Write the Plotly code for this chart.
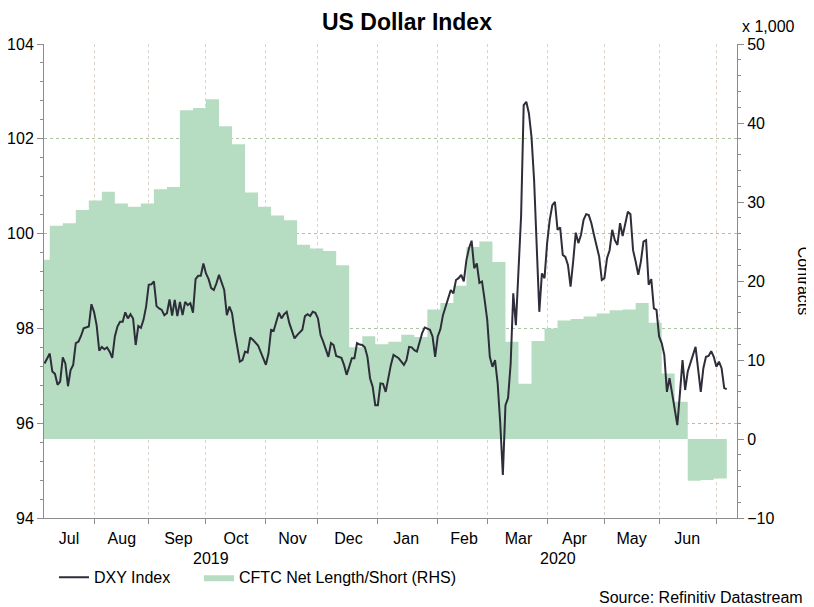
import plotly.graph_objects as go

# DXY daily closes
dxy_dates = [
    "2019-07-05", "2019-07-09", "2019-07-10", "2019-07-11", "2019-07-12", "2019-07-15", "2019-07-16",
    "2019-07-17", "2019-07-18", "2019-07-19", "2019-07-22", "2019-07-23", "2019-07-24", "2019-07-25",
    "2019-07-26", "2019-07-30", "2019-07-31", "2019-08-01", "2019-08-02", "2019-08-05", "2019-08-06",
    "2019-08-07", "2019-08-08", "2019-08-09", "2019-08-12", "2019-08-13", "2019-08-14", "2019-08-15",
    "2019-08-16", "2019-08-19", "2019-08-20", "2019-08-21", "2019-08-22", "2019-08-23", "2019-08-26",
    "2019-08-27", "2019-08-28", "2019-08-29", "2019-08-30", "2019-09-02", "2019-09-03", "2019-09-04",
    "2019-09-05", "2019-09-06", "2019-09-09", "2019-09-10", "2019-09-11", "2019-09-12", "2019-09-13",
    "2019-09-16", "2019-09-17", "2019-09-18", "2019-09-19", "2019-09-20", "2019-09-23", "2019-09-24",
    "2019-09-25", "2019-09-26", "2019-09-27", "2019-09-30", "2019-10-01", "2019-10-02", "2019-10-03",
    "2019-10-04", "2019-10-07", "2019-10-08", "2019-10-10", "2019-10-11", "2019-10-14", "2019-10-15",
    "2019-10-16", "2019-10-18", "2019-10-21", "2019-10-22", "2019-10-23", "2019-10-24", "2019-10-25",
    "2019-10-28", "2019-10-29", "2019-10-31", "2019-11-01", "2019-11-04", "2019-11-05", "2019-11-06",
    "2019-11-07", "2019-11-08", "2019-11-11", "2019-11-12", "2019-11-13", "2019-11-14", "2019-11-18",
    "2019-11-19", "2019-11-21", "2019-11-22", "2019-11-25", "2019-11-26", "2019-11-27", "2019-11-28",
    "2019-11-29", "2019-12-02", "2019-12-03", "2019-12-04", "2019-12-05", "2019-12-06", "2019-12-09",
    "2019-12-10", "2019-12-11", "2019-12-12", "2019-12-13", "2019-12-16", "2019-12-17", "2019-12-18",
    "2019-12-19", "2019-12-20", "2019-12-23", "2019-12-24", "2019-12-25", "2019-12-26", "2019-12-27",
    "2019-12-30", "2019-12-31", "2020-01-01", "2020-01-02", "2020-01-03", "2020-01-06", "2020-01-07",
    "2020-01-08", "2020-01-09", "2020-01-10", "2020-01-13", "2020-01-14", "2020-01-15", "2020-01-16",
    "2020-01-17", "2020-01-20", "2020-01-21", "2020-01-22", "2020-01-23", "2020-01-24", "2020-01-27",
    "2020-01-29", "2020-01-30", "2020-01-31", "2020-02-03", "2020-02-04", "2020-02-05", "2020-02-06",
    "2020-02-07", "2020-02-10", "2020-02-11", "2020-02-12", "2020-02-13", "2020-02-14", "2020-02-17",
    "2020-02-18", "2020-02-19", "2020-02-20", "2020-02-21", "2020-02-24", "2020-02-25", "2020-02-26",
    "2020-02-27", "2020-02-28", "2020-03-02", "2020-03-03", "2020-03-04", "2020-03-05", "2020-03-06",
    "2020-03-09", "2020-03-10", "2020-03-11", "2020-03-12", "2020-03-13", "2020-03-16", "2020-03-17",
    "2020-03-18", "2020-03-19", "2020-03-20", "2020-03-23", "2020-03-24", "2020-03-25", "2020-03-26",
    "2020-03-27", "2020-03-30", "2020-03-31", "2020-04-01", "2020-04-02", "2020-04-03", "2020-04-06",
    "2020-04-07", "2020-04-08", "2020-04-09", "2020-04-10", "2020-04-13", "2020-04-14", "2020-04-15",
    "2020-04-16", "2020-04-17", "2020-04-20", "2020-04-21", "2020-04-22", "2020-04-23", "2020-04-24",
    "2020-04-27", "2020-04-28", "2020-04-29", "2020-04-30", "2020-05-01", "2020-05-04", "2020-05-05",
    "2020-05-06", "2020-05-07", "2020-05-08", "2020-05-11", "2020-05-12", "2020-05-13", "2020-05-14",
    "2020-05-15", "2020-05-18", "2020-05-19", "2020-05-20", "2020-05-21", "2020-05-22", "2020-05-25",
    "2020-05-26", "2020-05-27", "2020-05-28", "2020-05-29", "2020-06-01", "2020-06-02", "2020-06-03",
    "2020-06-04", "2020-06-05", "2020-06-08", "2020-06-09", "2020-06-10", "2020-06-11", "2020-06-12",
    "2020-06-15", "2020-06-16", "2020-06-19", "2020-06-22", "2020-06-23", "2020-06-24", "2020-06-25",
    "2020-06-26", "2020-06-29", "2020-06-30", "2020-07-01", "2020-07-02", "2020-07-03", "2020-07-06",
    "2020-07-07",
]
dxy_values = [
    97.26, 97.47, 97.09, 97.04, 96.81, 96.88, 97.39,
    97.26, 96.78, 97.12, 97.23, 97.69, 97.72, 97.84,
    98.00, 98.04, 98.51, 98.35, 98.07, 97.53, 97.61,
    97.56, 97.60, 97.51, 97.38, 97.83, 98.04, 98.14,
    98.14, 98.34, 98.21, 98.30, 98.21, 97.65, 98.05,
    98.01, 98.18, 98.46, 98.92, 98.93, 98.99, 98.47,
    98.42, 98.39, 98.28, 98.32, 98.61, 98.27, 98.60,
    98.26, 98.56, 98.28, 98.56, 98.49, 98.53, 98.33,
    99.04, 99.11, 99.11, 99.37, 99.16, 99.04, 98.85,
    98.81, 98.95, 99.13, 98.81, 98.28, 98.46, 98.32,
    97.93, 97.30, 97.33, 97.51, 97.49, 97.81, 97.76,
    97.69, 97.64, 97.37, 97.23, 97.47, 97.97, 97.95,
    98.14, 98.33, 98.21, 98.30, 98.35, 98.11, 97.79,
    97.86, 97.97, 98.26, 98.30, 98.26, 98.35, 98.33,
    98.21, 97.86, 97.72, 97.58, 97.40, 97.69, 97.65,
    97.42, 97.40, 97.38, 97.23, 97.02, 97.19, 97.37,
    97.37, 97.69, 97.66, 97.65, 97.60, 97.40, 96.95,
    96.77, 96.38, 96.38, 96.84, 96.83, 96.66, 96.98,
    97.23, 97.44, 97.40, 97.37, 97.30, 97.23, 97.33,
    97.61, 97.60, 97.54, 97.51, 97.69, 97.90, 98.02,
    97.97, 97.83, 97.40, 97.83, 97.98, 98.28, 98.46,
    98.60, 98.81, 98.74, 99.02, 99.06, 99.13, 98.99,
    99.44, 99.69, 99.85, 99.27, 99.37, 98.96, 98.99,
    98.60, 98.18, 97.40, 97.19, 97.33, 96.84, 96.00,
    94.91, 96.38, 96.53, 97.26, 98.74, 98.07, 99.23,
    100.36, 102.71, 102.78, 102.54, 102.04, 101.13, 99.65,
    98.35, 99.16, 99.06, 99.80, 100.29, 100.60, 100.67,
    100.08, 100.13, 99.55, 99.51, 99.34, 98.88, 99.41,
    100.02, 99.80, 99.97, 100.29, 100.41, 100.39, 100.22,
    99.97, 99.76, 99.51, 99.02, 99.06, 99.48, 99.65,
    100.08, 99.86, 99.76, 100.22, 99.95, 100.22, 100.46,
    100.41, 99.65, 99.41, 99.13, 99.41, 99.83, 99.86,
    98.92, 99.04, 98.42, 98.39, 97.83, 97.69, 97.44,
    96.66, 96.95, 96.63, 96.24, 95.96, 96.63, 97.33,
    96.70, 97.09, 97.61, 97.12, 96.66, 97.16, 97.40,
    97.42, 97.52, 97.40, 97.19, 97.30, 97.16, 96.74,
    96.72,
]

# CFTC net length/short, weekly, thousands of contracts
cftc_dates = [
    "2019-07-02", "2019-07-09", "2019-07-16", "2019-07-23", "2019-07-30", "2019-08-06", "2019-08-13",
    "2019-08-20", "2019-08-27", "2019-09-03", "2019-09-10", "2019-09-17", "2019-09-24", "2019-10-01",
    "2019-10-08", "2019-10-15", "2019-10-22", "2019-10-29", "2019-11-05", "2019-11-12", "2019-11-19",
    "2019-11-26", "2019-12-03", "2019-12-10", "2019-12-17", "2019-12-24", "2019-12-31", "2020-01-07",
    "2020-01-14", "2020-01-21", "2020-01-28", "2020-02-04", "2020-02-11", "2020-02-18", "2020-02-25",
    "2020-03-03", "2020-03-10", "2020-03-17", "2020-03-24", "2020-03-31", "2020-04-07", "2020-04-14",
    "2020-04-21", "2020-04-28", "2020-05-05", "2020-05-12", "2020-05-19", "2020-05-26", "2020-06-02",
    "2020-06-09", "2020-06-16", "2020-06-23", "2020-06-30", "2020-07-07",
]
cftc_values = [
    22.7, 27.0, 27.3, 29.0, 30.2, 31.3, 29.8,
    29.4, 29.8, 31.6, 31.9, 41.6, 41.9, 43.0,
    39.6, 37.3, 31.2, 29.4, 28.3, 27.7, 24.6,
    24.1, 23.8, 22.0, 11.6, 13.0, 12.0, 12.3,
    13.2, 12.9, 16.4, 17.2, 19.4, 24.3, 25.0,
    22.4, 12.3, 7.0, 12.4, 14.0, 15.0, 15.2,
    15.5, 15.9, 16.3, 16.4, 17.2, 14.7, 8.3,
    4.7, -5.3, -5.2, -5.0, -5.0,
]

# month labels sit in the middle of each (visible) month
month_labels = ["Jul", "Aug", "Sep", "Oct", "Nov", "Dec", "Jan", "Feb", "Mar", "Apr", "May", "Jun"]
month_label_dates = [
    "2019-07-18 10:00", "2019-08-15 16:00", "2019-09-16 10:00", "2019-10-16 12:00",
    "2019-11-15 05:00", "2019-12-16 17:00", "2020-01-15 21:00", "2020-02-17 02:00",
    "2020-03-17 00:00", "2020-04-15 12:00", "2020-05-15 10:00", "2020-06-15 19:00",
]
year_labels = ["2019", "2020"]
year_label_dates = ["2019-10-03", "2020-04-07"]

FONT = "Liberation Sans, Arial, sans-serif"
AXIS_COL = "#8c8c8c"
HGRID = "#adc4a2"
VGRID = "#dcd2cc"

fig = go.Figure()

# area goes on the base axis so the DXY line (overlay axis) is drawn on top
fig.add_trace(go.Scatter(
    x=cftc_dates, y=cftc_values, name="CFTC Net Length/Short (RHS)",
    yaxis="y", mode="lines", line=dict(shape="hv", width=0, color="rgb(182,221,194)"),
    fill="tozeroy", fillcolor="rgb(182,221,194)", legend="legend2",
))
fig.add_trace(go.Scatter(
    x=dxy_dates, y=dxy_values, name="DXY Index", yaxis="y2",
    mode="lines", line=dict(color="#2e2e3a", width=2), legend="legend",
))

for lab, d in zip(year_labels, year_label_dates):
    fig.add_annotation(x=d, y=0, xref="x", yref="paper", text=lab, showarrow=False,
                       xanchor="center", yanchor="top", yshift=-30,
                       font=dict(size=16, color="black"))

fig.add_annotation(x=1.046, y=1.036, xref="paper", yref="paper", text="x 1,000",
                   xanchor="center", yanchor="middle", showarrow=False,
                   font=dict(size=16, color="black"))
fig.add_annotation(x=1.097, y=0.5, xref="paper", yref="paper", text="Contracts",
                   textangle=90, xanchor="center", yanchor="middle", showarrow=False,
                   font=dict(size=16, color="black"))
fig.add_annotation(x=1.098, y=-0.167, xref="paper", yref="paper", xanchor="right",
                   yanchor="middle", text="Source: Refinitiv Datastream", showarrow=False,
                   font=dict(size=16, color="black"))

legend_style = dict(orientation="h", y=-0.125, xanchor="left", yanchor="middle",
                    font=dict(size=16), bgcolor="rgba(0,0,0,0)")

fig.update_layout(
    # page body adds an 8px margin, so the figure is 8px smaller than the window
    width=806, height=599,
    margin=dict(l=36, r=77, t=36, b=89),
    paper_bgcolor="white", plot_bgcolor="white",
    font=dict(family=FONT, size=16, color="black"),
    title=dict(text="<b>US Dollar Index</b>", x=0.495, xref="container", xanchor="center",
               y=0.977, yref="container", yanchor="middle", font=dict(size=23)),
    showlegend=True,
    legend=dict(x=0.0144, **legend_style),
    legend2=dict(x=0.2237, **legend_style),
    xaxis=dict(
        type="date", range=["2019-07-04 19:00", "2020-07-10 22:00"],
        rangebreaks=[dict(bounds=["sat", "mon"])],
        tickvals=month_label_dates, ticktext=month_labels,
        ticks="outside", ticklen=6, tickcolor="rgba(0,0,0,0)",
        showgrid=False, automargin=False,
        minor=dict(tick0="2019-07-01", dtick="M1", ticks="outside", ticklen=5,
                   tickcolor=AXIS_COL, showgrid=True, gridcolor=VGRID, griddash="dot",
                   gridwidth=1),
        showline=True, linecolor=AXIS_COL, linewidth=1,
        zeroline=False,
    ),
    yaxis=dict(
        range=[-10, 50], dtick=10, side="right", automargin=False,
        ticks="outside", ticklen=6, tickcolor=AXIS_COL,
        showline=True, linecolor=AXIS_COL, linewidth=1, showgrid=False,
        minor=dict(dtick=2, ticks="outside", ticklen=3, tickcolor=AXIS_COL),
        zeroline=False,
    ),
    yaxis2=dict(
        range=[94, 104], dtick=2, overlaying="y", side="left", automargin=False,
        ticks="outside", ticklen=6, tickcolor=AXIS_COL,
        showline=True, linecolor=AXIS_COL, linewidth=1,
        showgrid=True, gridcolor=HGRID, griddash="dot", gridwidth=1,
        minor=dict(dtick=0.4, ticks="outside", ticklen=3, tickcolor=AXIS_COL, showgrid=False),
        zeroline=False,
    ),
)

fig.write_html("out.html")
